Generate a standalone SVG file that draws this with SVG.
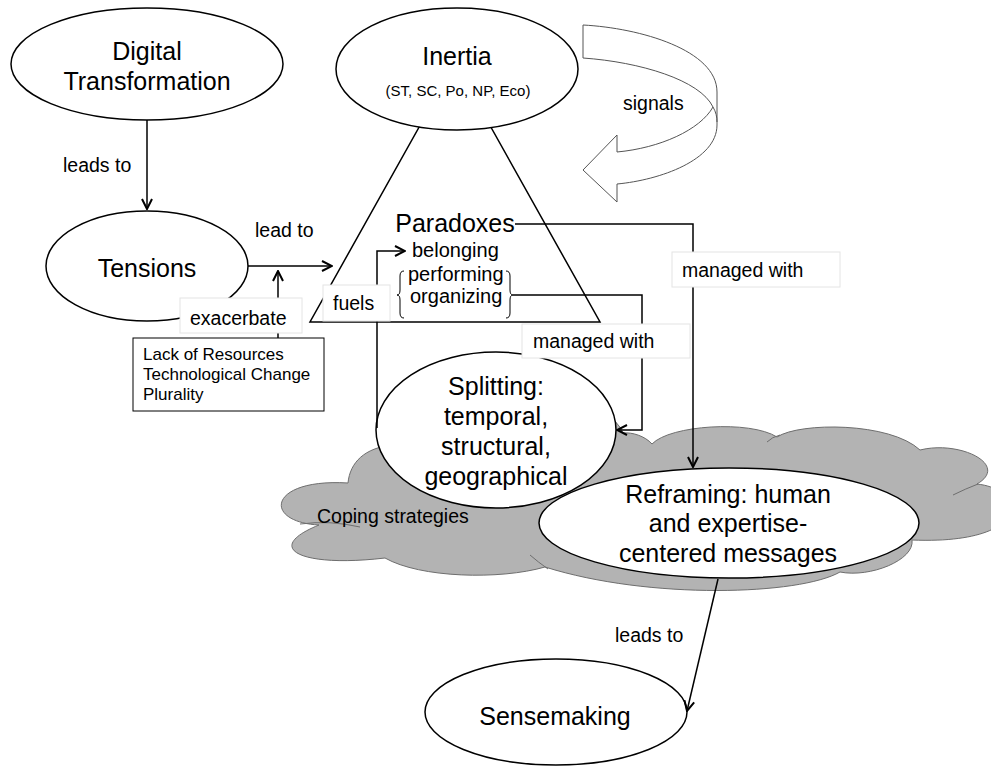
<svg xmlns="http://www.w3.org/2000/svg" width="991" height="767" viewBox="0 0 991 767">
<defs>
<style>
.node{fill:#fff;stroke:#000;stroke-width:1.5}
.t{font-family:"Liberation Sans",Arial,sans-serif;fill:#000}
.big{font-size:25px;text-anchor:middle}
.lbl{font-size:19.5px}
.con{fill:none;stroke:#000;stroke-width:1.5}
.lb{fill:#fff;stroke:#e4e4e4;stroke-width:1}
.cl{fill:none;stroke:#6e6e6e;stroke-width:1}
</style>
<marker id="ah" viewBox="0 0 12 12" refX="11" refY="6" markerWidth="12" markerHeight="12" markerUnits="userSpaceOnUse" orient="auto">
<path d="M1,1 L11,6 L1,11" fill="none" stroke="#000" stroke-width="2"/>
</marker>
</defs>
<rect width="991" height="767" fill="#fff"/>

<g id="paradoxes">
<polygon class="node" points="455,63 600,322 310,322"/>
<text class="t big" x="455" y="232">Paradoxes</text>
<text class="t" font-size="20" x="412" y="257">belonging</text>
<text class="t" font-size="20" x="408" y="281">performing</text>
<text class="t" font-size="20" x="410" y="303">organizing</text>
<path d="M404,271 Q400,271 400,276 L400,290 Q400,295 397,295 Q400,295 400,300 L400,313 Q400,318 404,318" fill="none" stroke="#000" stroke-width="1"/>
<path d="M506,271 Q510,271 510,276 L510,290 Q510,295 513,295 Q510,295 510,300 L510,313 Q510,318 506,318" fill="none" stroke="#000" stroke-width="1"/>
</g>

<g id="inertia">
<ellipse class="node" cx="457" cy="69" rx="121" ry="61"/>
<text class="t big" x="457" y="65">Inertia</text>
<text class="t" font-size="15" text-anchor="middle" x="458" y="96">(ST, SC, Po, NP, Eco)</text>
</g>

<g id="coping">
<path d="M319,525 C262,522 268,478 348,483 C350,462 365,448 392,445 C420,400 480,400 505,420 C540,395 610,400 623,433 C632,432 645,436 652,444 C670,425 750,420 777,437 C800,422 890,422 920,450 C960,440 1010,465 977,484 C1030,490 1030,545 912,540 C915,560 870,578 840,572 C800,595 650,600 545,567 C500,580 420,578 385,558 C300,568 262,548 319,525 Z" fill="#b3b3b3" stroke="#6e6e6e" stroke-width="1"/>
<path class="cl" d="M300,524 Q330,520 360,527"/>
<path class="cl" d="M530,555 Q538,562 548,569"/>
<path class="cl" d="M767,442 Q772,437 780,435"/>
<path class="cl" d="M953,495 Q965,489 978,484"/>
<text class="t lbl" x="317" y="523">Coping strategies</text>
</g>

<g id="splitting">
<ellipse class="node" cx="496" cy="430" rx="120" ry="78"/>
<text class="t big" x="496" y="395">Splitting:</text>
<text class="t big" x="496" y="425">temporal,</text>
<text class="t big" x="496" y="455">structural,</text>
<text class="t big" x="496" y="485">geographical</text>
</g>

<g id="reframing">
<ellipse class="node" cx="729" cy="523" rx="190" ry="55"/>
<text class="t big" x="728" y="503">Reframing: human</text>
<text class="t big" x="728" y="532">and expertise-</text>
<text class="t big" x="728" y="562">centered messages</text>
</g>

<g id="digital-transformation">
<ellipse class="node" cx="147" cy="64" rx="136" ry="56"/>
<text class="t big" x="147" y="60">Digital</text>
<text class="t big" x="147" y="90">Transformation</text>
</g>

<g id="tensions">
<ellipse class="node" cx="147" cy="266" rx="101" ry="55"/>
<text class="t big" x="147" y="277">Tensions</text>
</g>

<g id="factors">
<rect x="133" y="338" width="191" height="73" fill="#fff" stroke="#000" stroke-width="1"/>
<text class="t" font-size="17" x="143" y="360">Lack of Resources</text>
<text class="t" font-size="17" x="143" y="380">Technological Change</text>
<text class="t" font-size="17" x="143" y="400">Plurality</text>
</g>

<g id="sensemaking">
<ellipse class="node" cx="556" cy="712" rx="131" ry="53"/>
<text class="t big" x="555" y="725">Sensemaking</text>
</g>

<g id="signals">
<path d="M583,25 C640,28 717,50 717,92 L717,125 C717,160 660,180 617,184 L617,202 L583,170 L617,135 L617,152 C660,148 700,130 713,107 C700,80 640,62 583,58 Z" fill="#fff" stroke="#555" stroke-width="1"/>
<path d="M713,107 C716,112 717,117 717,122" fill="none" stroke="#555" stroke-width="1"/>
<text class="t lbl" x="623" y="110">signals</text>
</g>

<g id="connectors">
<line class="con" x1="147" y1="120" x2="147" y2="209" marker-end="url(#ah)"/>
<line class="con" x1="248" y1="266" x2="332" y2="266" marker-end="url(#ah)"/>
<line class="con" x1="278" y1="338" x2="278" y2="271" marker-end="url(#ah)"/>
<polyline class="con" points="377,428 377,251 405,251" marker-end="url(#ah)"/>
<polyline class="con" points="515,224 693,224 693,467" marker-end="url(#ah)"/>
<polyline class="con" points="513,295 642,295 642,430 617,430" marker-end="url(#ah)"/>
<line class="con" x1="718" y1="579" x2="687" y2="711" marker-end="url(#ah)"/>
</g>

<g id="labels">
<text class="t lbl" x="63" y="172">leads to</text>
<text class="t lbl" x="255" y="237">lead to</text>
<rect class="lb" x="180" y="298" width="122" height="35"/>
<text class="t lbl" x="190" y="325">exacerbate</text>
<rect class="lb" x="323" y="285" width="67" height="36"/>
<text class="t lbl" x="333" y="310">fuels</text>
<rect class="lb" x="672" y="252" width="168" height="35"/>
<text class="t lbl" x="682" y="277">managed with</text>
<rect class="lb" x="522" y="324" width="168" height="34"/>
<text class="t lbl" x="533" y="348">managed with</text>
<text class="t lbl" x="615" y="642">leads to</text>
</g>
</svg>
